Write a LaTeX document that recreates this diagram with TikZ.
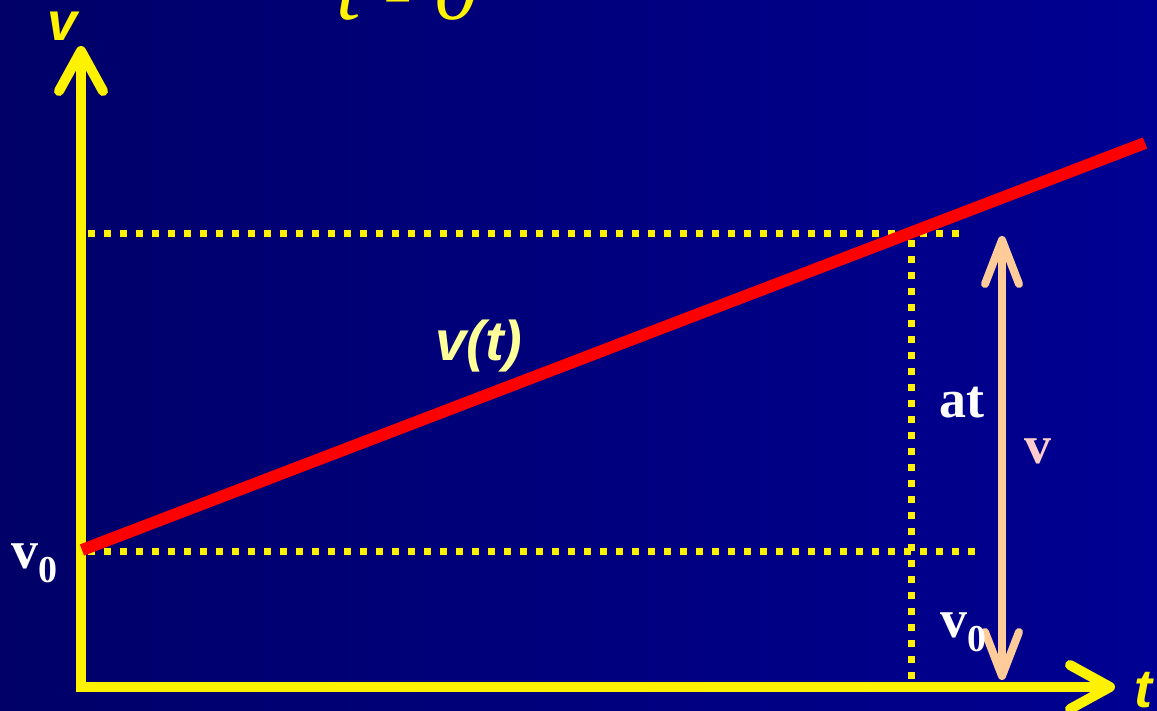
\documentclass[tikz,border=0pt]{standalone}
\usepackage{fontspec}
\setmainfont{Liberation Serif}
\setsansfont{Liberation Sans}
\usetikzlibrary{arrows.meta}
\definecolor{bgleft}{RGB}{0,0,104}
\definecolor{bgright}{RGB}{0,0,146}
\definecolor{peach}{RGB}{255,204,153}
\definecolor{vlabel}{RGB}{255,204,204}
\definecolor{paleyellow}{RGB}{255,255,153}
\newcommand{\vnought}{v\raisebox{-14pt}{\fontsize{38}{40}\selectfont 0}}
\tikzset{
  axis/.style={yellow, line width=10pt, -{Straight Barb[length=40pt,width=44pt,round]}},
  dotline/.style={yellow, line width=7pt, dash pattern=on 7pt off 9pt},
  lab/.style={font=\bfseries\fontsize{54}{58}\selectfont, text=white},
  axlab/.style={font=\sffamily\bfseries\itshape\fontsize{54}{60}\selectfont, text=yellow},
}
\begin{document}
\begin{tikzpicture}[x=1pt,y=-1pt]
\shade[left color=bgleft,right color=bgright] (0,0) rectangle (1157,710);
\useasboundingbox (0,0) rectangle (1157,710);

\coordinate (vtip) at (81,46);
\coordinate (ttip) at (1115,687);
\draw[axis] (81,692) -- (vtip);
\draw[axis] (76,687) -- (ttip);

\draw[dotline] (88,233) -- (968,233);
\draw[dotline] (88,551) -- (979,551);
\draw[dotline] (911,240) -- (911,683);

\draw[red, line width=12pt] (82,550) -- (1145,143);
\draw[peach, line width=8pt, {Straight Barb[length=44pt,width=34pt,round]}-{Straight Barb[length=44pt,width=34pt,round]}] (1002,236) -- (1002,680);

\node[axlab, anchor=base west] (vaxis) at (44,40) {v};
\node[axlab, anchor=base west] (taxis) at (1131,707) {t};
\node[font=\itshape\fontsize{88}{90}\selectfont, text=yellow, anchor=base west] (tzero) at (333,19) {t - 0};
\node[font=\sffamily\bfseries\itshape\fontsize{56}{60}\selectfont, text=paleyellow, anchor=base west] (vt) at (432,360) {v(t)};

\node[lab, anchor=base west] (at) at (936,417) {at};
\node[lab, text=vlabel, anchor=base west] (vv) at (1021,463) {v};
\node[lab, anchor=base west] (vright) at (937,637) {\vnought};
\node[lab, anchor=base west] (vleft) at (8,568) {\vnought};
\end{tikzpicture}
\end{document}
